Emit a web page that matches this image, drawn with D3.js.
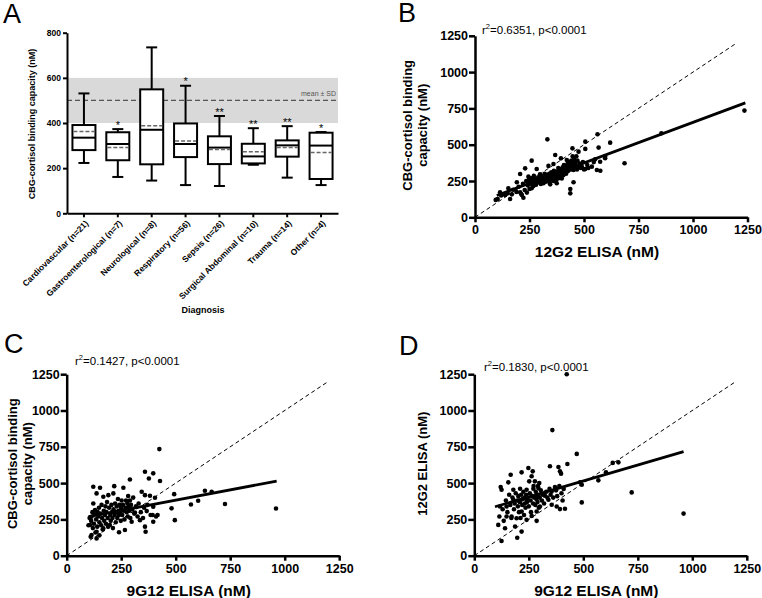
<!DOCTYPE html>
<html>
<head>
<meta charset="utf-8">
<script src="https://cdn.jsdelivr.net/npm/d3@7"></script>
<style>
  html, body { margin: 0; padding: 0; background: #fff; }
  svg { display: block; font-family: "Liberation Sans", Arial, Helvetica, sans-serif; }
</style>
</head>
<body>
<script>
// ---------------- DATA ----------------
// Panel A: box plots per diagnosis
const boxCats = ["Cardiovascular (n=21)", "Gastroenterological (n=7)", "Neurological (n=8)", "Respiratory (n=56)",
  "Sepsis (n=26)", "Surgical Abdominal (n=10)", "Trauma (n=14)", "Other (n=4)"];
const boxLow    = [223, 161, 145, 125, 121, 215, 158, 125];
const boxQ1     = [280, 235, 217, 249, 218, 221, 251, 152];
const boxMedian = [335, 307, 370, 307, 291, 252, 301, 300];
const boxMean   = [362, 291, 388, 320, 283, 273, 291, 269];
const boxQ3     = [391, 359, 549, 398, 341, 308, 323, 357];
const boxHigh   = [531, 373, 735, 565, 431, 377, 386, 360];
const boxStars  = ["", "*", "", "*", "**", "**", "**", "*"];
const refBand   = [400, 500, 600]; // mean - SD, mean, mean + SD
const yTicksA   = [0, 200, 400, 600, 800];
const xyTicks   = [0, 250, 500, 750, 1000, 1250];

// Panel B: x = 12G2 ELISA, y = CBG-cortisol binding capacity
const ptsB = [[95,120],[104,126],[115,172],[120,150],[138,154],[150,165],[153,200],[161,126],[169,158],[175,190],[190,175],[192,241],[200,210],[207,172],[207,298],[212,160],[215,154],[220,230],[222,135],[228,188],[230,337],[235,250],[238,170],[242,220],[245,280],[248,260],[250,195],[252,240],[255,265],[258,230],[260,390],[260,200],[262,270],[265,250],[268,215],[270,285],[272,245],[275,234],[276,262],[280,225],[283,333],[285,258],[288,240],[290,275],[295,265],[298,296],[300,250],[302,230],[305,285],[310,270],[314,234],[318,255],[320,300],[322,280],[325,245],[328,265],[330,290],[332,537],[335,275],[337,354],[338,258],[340,300],[342,240],[345,227],[346,270],[348,285],[350,310],[352,260],[355,295],[358,280],[360,367],[360,250],[362,320],[365,290],[368,429],[368,270],[370,300],[372,255],[375,234],[376,315],[378,285],[380,300],[382,340],[385,270],[388,310],[390,290],[392,330],[394,406],[395,300],[398,268],[400,320],[402,345],[405,290],[408,360],[410,330],[412,310],[415,350],[418,300],[421,395],[422,340],[425,370],[428,320],[430,355],[432,380],[435,340],[437,360],[437,195],[437,165],[440,330],[442,390],[445,350],[447,475],[448,420],[450,370],[452,326],[452,241],[455,400],[458,340],[460,380],[462,360],[465,420],[468,330],[470,390],[475,452],[478,350],[480,370],[485,340],[490,349],[495,380],[500,330],[506,521],[506,471],[506,333],[515,360],[520,340],[536,349],[545,380],[551,400],[559,326],[562,572],[567,480],[574,383],[575,321],[597,418],[597,407],[620,514],[686,372],[855,579],[1236,735]];
// Panel C: x = 9G12 ELISA, y = CBG-cortisol binding capacity
const ptsC = [[100,210],[105,260],[107,211],[110,130],[112,240],[114,142],[114,268],[118,300],[120,190],[122,360],[122,475],[125,220],[128,285],[130,314],[132,160],[135,250],[137,119],[137,165],[137,429],[140,200],[142,300],[145,270],[148,330],[150,230],[150,140],[153,468],[155,290],[158,210],[160,350],[162,260],[165,180],[168,188],[168,406],[170,310],[172,240],[175,280],[178,340],[180,220],[182,300],[185,370],[188,260],[190,200],[191,417],[195,330],[198,211],[200,280],[202,240],[205,350],[208,300],[210,260],[212,190],[214,429],[215,320],[218,479],[220,280],[222,360],[225,230],[228,300],[230,340],[232,260],[235,390],[238,310],[240,161],[240,280],[242,350],[245,300],[248,240],[250,330],[252,380],[255,280],[258,350],[260,468],[262,310],[265,250],[267,177],[270,330],[272,380],[275,300],[278,360],[280,270],[282,411],[285,340],[288,310],[290,525],[290,380],[292,260],[295,350],[298,234],[300,320],[305,400],[310,290],[313,298],[318,340],[325,270],[330,360],[336,245],[340,300],[344,440],[350,260],[355,330],[359,578],[359,417],[359,200],[362,165],[367,307],[370,350],[377,532],[382,413],[385,280],[394,280],[397,567],[397,337],[397,234],[405,399],[410,270],[417,280],[425,734],[428,514],[481,326],[493,424],[496,245],[570,353],[603,378],[634,447],[665,440],[726,356],[960,325]];
// Panel D: x = 9G12 ELISA, y = 12G2 ELISA
const ptsD = [[110,212],[115,270],[118,339],[121,473],[125,454],[125,101],[130,320],[135,240],[141,189],[145,380],[148,270],[148,339],[152,300],[156,505],[160,420],[165,350],[167,558],[170,260],[171,270],[175,400],[179,454],[179,385],[182,320],[185,360],[187,201],[190,430],[194,258],[197,124],[198,380],[200,340],[202,410],[205,300],[208,370],[210,461],[210,374],[212,260],[215,420],[217,574],[217,304],[217,166],[220,350],[222,390],[225,440],[228,280],[230,400],[232,360],[235,330],[238,420],[240,454],[240,385],[240,247],[242,370],[245,400],[248,604],[250,340],[252,512],[255,430],[258,380],[260,300],[263,547],[263,274],[265,410],[268,581],[270,360],[271,461],[272,480],[275,400],[278,512],[280,350],[282,440],[285,390],[286,304],[286,240],[288,420],[290,370],[292,480],[294,466],[294,413],[296,330],[298,500],[300,400],[301,339],[305,450],[310,380],[315,420],[320,360],[324,413],[330,440],[335,400],[340,385],[345,460],[347,616],[350,420],[355,443],[355,351],[358,865],[362,400],[370,473],[375,450],[378,339],[380,410],[386,611],[390,480],[393,581],[393,321],[398,565],[400,430],[405,380],[410,460],[416,323],[424,1250],[427,632],[470,701],[485,505],[493,489],[493,367],[569,519],[604,574],[635,639],[661,643],[722,436],[960,290]];

// regression line end points [x, y]
const fitB = [[100, 150], [1240, 788]];
const fitC = [[100, 269], [963, 514]];
const fitD = [[95, 337], [960, 717]];
const identity = [[0, 0], [1200, 1200]];

// ---------------- DRAW ----------------
const svg = d3.select("body").append("svg").attr("width", 762).attr("height", 598);

function styleAxis(g, w, fs) {
  g.select(".domain").attr("stroke", "#000").attr("stroke-width", w);
  g.selectAll(".tick line").attr("stroke", "#000").attr("stroke-width", w);
  g.selectAll(".tick text").attr("fill", "#000").attr("font-size", fs).attr("font-weight", "bold")
    .attr("font-family", "Liberation Sans, Arial, sans-serif");
}

function panelLetter(t, x, y) {
  svg.append("text").attr("x", x).attr("y", y).attr("font-size", 27).attr("fill", "#000").text(t);
}

// ---- Panel A ----
{
  const yA = d3.scaleLinear().domain([0, 800]).range([213.3, 32.7]);
  const xA = d3.scaleBand().domain(boxCats).range([67, 338]);
  const g = svg.append("g");
  g.append("rect").attr("x", 67).attr("width", 271)
    .attr("y", yA(refBand[2])).attr("height", yA(refBand[0]) - yA(refBand[2])).attr("fill", "#d9d9d9");
  g.append("line").attr("x1", 67).attr("x2", 338).attr("y1", yA(refBand[1])).attr("y2", yA(refBand[1]))
    .attr("stroke", "#555").attr("stroke-width", 1.2).attr("stroke-dasharray", "5,3");
  g.append("text").attr("x", 336).attr("y", 96).attr("text-anchor", "end").attr("font-size", 7)
    .attr("fill", "#555").text("mean \u00b1 SD");

  const bw = 23, cw = 11;
  boxCats.forEach((c, i) => {
    const cx = xA(c) + xA.bandwidth() / 2;
    const b = g.append("g");
    b.append("line").attr("x1", cx).attr("x2", cx).attr("y1", yA(boxLow[i])).attr("y2", yA(boxHigh[i]))
      .attr("stroke", "#000").attr("stroke-width", 2);
    [boxLow[i], boxHigh[i]].forEach(v => b.append("line").attr("x1", cx - cw / 2).attr("x2", cx + cw / 2)
      .attr("y1", yA(v)).attr("y2", yA(v)).attr("stroke", "#000").attr("stroke-width", 2));
    b.append("rect").attr("x", cx - bw / 2).attr("width", bw).attr("y", yA(boxQ3[i]))
      .attr("height", yA(boxQ1[i]) - yA(boxQ3[i])).attr("fill", "#fff").attr("stroke", "#000").attr("stroke-width", 2);
    b.append("line").attr("x1", cx - bw / 2).attr("x2", cx + bw / 2).attr("y1", yA(boxMedian[i])).attr("y2", yA(boxMedian[i]))
      .attr("stroke", "#000").attr("stroke-width", 2);
    b.append("line").attr("x1", cx - bw / 2 + 1).attr("x2", cx + bw / 2 - 1).attr("y1", yA(boxMean[i])).attr("y2", yA(boxMean[i]))
      .attr("stroke", "#666").attr("stroke-width", 1.5).attr("stroke-dasharray", "4,2");
    if (boxStars[i]) {
      b.append("text").attr("x", cx).attr("y", yA(boxHigh[i]) - 0.5).attr("text-anchor", "middle")
        .attr("font-size", 11).attr("fill", "#000").text(boxStars[i]);
    }
  });

  const ax = g.append("g").attr("transform", "translate(67,0)")
    .call(d3.axisLeft(yA).tickValues(yTicksA).tickSize(4).tickSizeOuter(0).tickPadding(2).tickFormat(d3.format("d")));
  styleAxis(ax, 2, 8.5);
  const bx = g.append("g").attr("transform", "translate(0,213.3)")
    .call(d3.axisBottom(xA).tickSize(4).tickSizeOuter(0).tickFormat(""));
  styleAxis(bx, 2, 8);
  boxCats.forEach(c => {
    const cx = xA(c) + xA.bandwidth() / 2;
    g.append("text").attr("transform", `translate(${cx + 5},${224}) rotate(-45)`).attr("text-anchor", "end")
      .attr("font-size", 8.5).attr("font-weight", "bold").text(c);
  });
  g.append("text").attr("x", 203).attr("y", 313).attr("text-anchor", "middle").attr("font-size", 9)
    .attr("font-weight", "bold").text("Diagnosis");
  g.append("text").attr("transform", "translate(35,124) rotate(-90)").attr("text-anchor", "middle")
    .attr("font-size", 9).attr("font-weight", "bold").text("CBG-cortisol binding capacity (nM)");
  panelLetter("A", 3, 23);
}

// ---- Scatter panels ----
function scatter(o) {
  const x = d3.scaleLinear().domain([0, 1250]).range([o.left, o.left + 272.5]);
  const y = d3.scaleLinear().domain([0, 1250]).range([o.bottom, o.bottom - 181.5]);
  const g = svg.append("g");
  g.append("line").attr("x1", x(identity[0][0])).attr("y1", y(identity[0][1]))
    .attr("x2", x(identity[1][0])).attr("y2", y(identity[1][1]))
    .attr("stroke", "#000").attr("stroke-width", 1).attr("stroke-dasharray", "4,3");
  g.selectAll("circle").data(o.pts).join("circle")
    .attr("cx", d => x(d[0])).attr("cy", d => y(d[1])).attr("r", 2.3).attr("fill", "#000");
  g.append("line").attr("x1", x(o.fit[0][0])).attr("y1", y(o.fit[0][1]))
    .attr("x2", x(o.fit[1][0])).attr("y2", y(o.fit[1][1]))
    .attr("stroke", "#000").attr("stroke-width", 2.8);
  const fmt = d3.format("d");
  const ay = g.append("g").attr("transform", `translate(${o.left},0)`)
    .call(d3.axisLeft(y).tickValues(xyTicks).tickSize(6).tickSizeOuter(0).tickPadding(1).tickFormat(fmt));
  styleAxis(ay, 2.5, 12.5);
  const ax = g.append("g").attr("transform", `translate(0,${o.bottom})`)
    .call(d3.axisBottom(x).tickValues(xyTicks).tickSize(5).tickSizeOuter(0).tickPadding(3).tickFormat(fmt));
  styleAxis(ax, 2.5, 12.5);
  g.append("text").attr("x", o.left + 122).attr("y", o.bottom + 40).attr("text-anchor", "middle")
    .attr("font-size", 15.5).attr("font-weight", "bold").text(o.xLabel);
  o.yLabel.forEach((t, i) => {
    g.append("text").attr("transform", `translate(${o.yLabelX[i]},${o.bottom - 92}) rotate(-90)`)
      .attr("text-anchor", "middle").attr("font-size", 13).attr("font-weight", "bold").text(t);
  });
  const rt = g.append("text").attr("x", o.rX).attr("y", o.rY).attr("font-size", 11.5).attr("fill", "#000");
  rt.append("tspan").text("r");
  rt.append("tspan").attr("font-size", 7.5).attr("dy", -5).text("2");
  rt.append("tspan").attr("dy", 5).text(o.rText);
  panelLetter(o.letter, o.lx, o.ly);
}

scatter({ left: 475, bottom: 217.3, pts: ptsB, fit: fitB, xLabel: "12G2 ELISA (nM)",
  yLabel: ["CBG-cortisol binding", "capacity (nM)"], yLabelX: [412, 427],
  rText: "=0.6351, p<0.0001", rX: 482, rY: 34, letter: "B", lx: 398, ly: 22 });
scatter({ left: 66.7, bottom: 555.7, pts: ptsC, fit: fitC, xLabel: "9G12 ELISA (nM)",
  yLabel: ["CBG-cortisol binding", "capacity (nM)"], yLabelX: [17, 32],
  rText: "=0.1427, p<0.0001", rX: 75, rY: 365, letter: "C", lx: 4, ly: 353 });
scatter({ left: 474.3, bottom: 555.7, pts: ptsD, fit: fitD, xLabel: "9G12 ELISA (nM)",
  yLabel: ["12G2 ELISA (nM)"], yLabelX: [427],
  rText: "=0.1830, p<0.0001", rX: 484, rY: 371, letter: "D", lx: 399, ly: 355 });
</script>
</body>
</html>
